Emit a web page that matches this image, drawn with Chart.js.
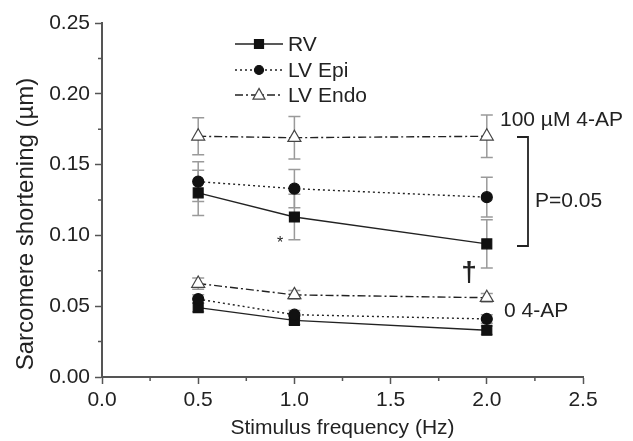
<!DOCTYPE html>
<html>
<head>
<meta charset="utf-8">
<script src="https://cdn.jsdelivr.net/npm/chart.js@4/dist/chart.umd.min.js"></script>
<style>
  html, body { margin: 0; padding: 0; background: #fff; }
  #wrap { width: 633px; height: 441px; }
</style>
</head>
<body>
<div id="wrap"><canvas id="c"></canvas></div>
<script>
// stimulus frequencies (Hz)
const freq = [0.5, 1.0, 2.0];

// 100 uM 4-AP
const rv100 = [0.130, 0.113, 0.094];
const rv100Err = [0.016, 0.016, 0.017];
const epi100 = [0.138, 0.133, 0.127];
const epi100Err = [0.014, 0.0135, 0.014];
const endo100 = [0.170, 0.169, 0.170];
const endo100Err = [0.013, 0.015, 0.015];

// 0 4-AP
const rv0 = [0.049, 0.040, 0.033];
const rv0Err = [0.003, 0.003, 0.003];
const epi0 = [0.055, 0.044, 0.041];
const epi0Err = [0.003, 0.003, 0.003];
const endo0 = [0.066, 0.058, 0.056];
const endo0Err = [0.004, 0.003, 0.003];

const seriesNames = ['RV', 'LV Epi', 'LV Endo'];
const xMinor = [0.25, 0.75, 1.25, 1.75, 2.25];
const yMinor = [0.025, 0.075, 0.125, 0.175, 0.225];

const FONT = '"Liberation Sans", Arial, Helvetica, sans-serif';
const INK = '#222';
const AXIS = '#555';
const ERR = '#9a9a9a';

const styles = {
  RV: { dash: [], point: 'rect', radius: 7, fill: '#111', border: '#111' },
  'LV Epi': { dash: [2, 3], point: 'circle', radius: 5.5, fill: '#111', border: '#111' },
  'LV Endo': { dash: [8, 3, 2, 3], point: 'triangle', radius: 7.5, fill: '#fff', border: '#444' },
};

function pts(ys) {
  return freq.map((x, i) => ({ x, y: ys[i] }));
}

function ds(name, ys, errs) {
  const s = styles[name];
  return {
    label: name,
    data: pts(ys),
    errs,
    borderColor: '#222',
    borderWidth: 1.4,
    borderDash: s.dash,
    pointStyle: s.point,
    pointRadius: s.radius,
    pointBackgroundColor: s.fill,
    pointBorderColor: s.border,
    pointBorderWidth: 1.2,
    fill: false,
    tension: 0,
  };
}

// error bars, drawn below the markers
const errorBars = {
  id: 'errorBars',
  beforeDatasetsDraw(chart) {
    const { ctx } = chart;
    const xs = chart.scales.x, ys = chart.scales.y;
    ctx.save();
    ctx.strokeStyle = ERR;
    ctx.lineWidth = 1.5;
    chart.data.datasets.forEach(d => {
      d.data.forEach((p, i) => {
        const e = d.errs[i];
        const px = xs.getPixelForValue(p.x);
        const top = ys.getPixelForValue(p.y + e);
        const bot = ys.getPixelForValue(p.y - e);
        ctx.beginPath();
        ctx.moveTo(px, top); ctx.lineTo(px, bot);
        ctx.moveTo(px - 6, top); ctx.lineTo(px + 6, top);
        ctx.moveTo(px - 6, bot); ctx.lineTo(px + 6, bot);
        ctx.stroke();
      });
    });
    ctx.restore();
  }
};

function marker(ctx, name, x, y, r) {
  const s = styles[name];
  ctx.save();
  ctx.fillStyle = s.fill;
  ctx.strokeStyle = s.border;
  ctx.lineWidth = 1.2;
  ctx.setLineDash([]);
  ctx.beginPath();
  if (s.point === 'rect') {
    ctx.rect(x - r, y - r, 2 * r, 2 * r);
  } else if (s.point === 'circle') {
    ctx.arc(x, y, r, 0, Math.PI * 2);
  } else {
    ctx.moveTo(x, y - r * 1.1);
    ctx.lineTo(x + r, y + r * 0.7);
    ctx.lineTo(x - r, y + r * 0.7);
    ctx.closePath();
  }
  ctx.fill();
  ctx.stroke();
  ctx.restore();
}

// minor ticks, y title, legend and annotations
const extras = {
  id: 'extras',
  afterDraw(chart) {
    const { ctx } = chart;
    const xs = chart.scales.x, ys = chart.scales.y;
    const area = chart.chartArea;
    ctx.save();
    ctx.strokeStyle = AXIS;
    ctx.lineWidth = 1.5;
    ctx.beginPath();
    xMinor.forEach(v => {
      const px = xs.getPixelForValue(v);
      ctx.moveTo(px, area.bottom); ctx.lineTo(px, area.bottom + 4);
    });
    yMinor.forEach(v => {
      const py = ys.getPixelForValue(v);
      ctx.moveTo(area.left, py); ctx.lineTo(area.left - 4, py);
    });
    ctx.stroke();

    // y axis title (sits a bit below the axis centre in the original)
    ctx.save();
    ctx.translate(26, 224);
    ctx.rotate(-Math.PI / 2);
    ctx.font = '24px ' + FONT;
    ctx.fillStyle = INK;
    ctx.textAlign = 'center';
    ctx.textBaseline = 'middle';
    ctx.fillText('Sarcomere shortening (\u00b5m)', 0, 0);
    ctx.restore();

    // legend
    const rows = [44, 70, 95];
    ctx.font = '21px ' + FONT;
    ctx.fillStyle = INK;
    ctx.textBaseline = 'middle';
    seriesNames.forEach((name, i) => {
      const y = rows[i];
      ctx.strokeStyle = '#222';
      ctx.lineWidth = 1.4;
      ctx.setLineDash(styles[name].dash);
      ctx.beginPath();
      ctx.moveTo(235, y); ctx.lineTo(283, y);
      ctx.stroke();
      ctx.setLineDash([]);
      marker(ctx, name, 259, y, name === 'LV Endo' ? 6 : 4.5);
      ctx.fillStyle = INK;
      ctx.fillText(name, 288, y + 1);
    });

    // annotations
    ctx.fillStyle = INK;
    ctx.font = '21px ' + FONT;
    ctx.fillText('100 \u00b5M 4-AP', 500, 120);
    ctx.fillText('P=0.05', 535, 201);
    ctx.fillText('0 4-AP', 504, 311);
    ctx.font = 'bold 28px ' + FONT;
    ctx.textAlign = 'center';
    ctx.fillText('\u2020', 469, 273);
    ctx.font = '16px ' + FONT;
    ctx.fillText('*', 280, 244);

    // bracket
    ctx.strokeStyle = '#222';
    ctx.lineWidth = 1.8;
    ctx.beginPath();
    ctx.moveTo(517, 137); ctx.lineTo(528, 137); ctx.lineTo(528, 246); ctx.lineTo(517, 246);
    ctx.stroke();
    ctx.restore();
  }
};

new Chart(document.getElementById('c'), {
  type: 'line',
  data: {
    datasets: [
      ds('LV Endo', endo100, endo100Err),
      ds('LV Epi', epi100, epi100Err),
      ds('RV', rv100, rv100Err),
      ds('LV Endo', endo0, endo0Err),
      ds('LV Epi', epi0, epi0Err),
      ds('RV', rv0, rv0Err),
    ],
  },
  options: {
    responsive: true,
    maintainAspectRatio: false,
    animation: false,
    layout: { padding: { left: 0, right: 50, top: 23, bottom: 0 } },
    plugins: { legend: { display: false }, tooltip: { enabled: false } },
    scales: {
      x: {
        type: 'linear',
        min: 0,
        max: 2.5,
        afterFit: s => { s.height = 64; },
        border: { color: AXIS, width: 2 },
        grid: { drawOnChartArea: false, tickLength: 7, tickColor: AXIS, tickWidth: 1.5 },
        ticks: {
          stepSize: 0.5,
          padding: 4,
          color: INK,
          font: { family: FONT, size: 21 },
          callback: v => v.toFixed(1),
        },
        title: {
          display: true,
          text: 'Stimulus frequency (Hz)',
          color: INK,
          font: { family: FONT, size: 21 },
          padding: { top: 0, bottom: 0 },
        },
      },
      y: {
        min: 0,
        max: 0.25,
        afterFit: s => { s.width = 102; },
        border: { color: AXIS, width: 2 },
        grid: { drawOnChartArea: false, tickLength: 7, tickColor: AXIS, tickWidth: 1.5 },
        ticks: {
          stepSize: 0.05,
          padding: 5,
          color: INK,
          font: { family: FONT, size: 21 },
          callback: v => v.toFixed(2),
        },
      },
    },
  },
  plugins: [errorBars, extras],
});
</script>
</body>
</html>
